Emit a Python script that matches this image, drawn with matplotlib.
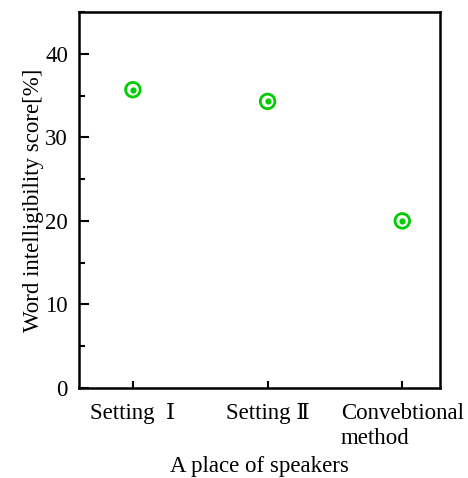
import matplotlib
matplotlib.use("Agg")
import matplotlib.pyplot as plt
from matplotlib.ticker import MultipleLocator

plt.rcParams['font.family'] = ['Liberation Serif', 'DejaVu Serif', 'Noto Sans CJK JP']
plt.rcParams['font.size'] = 16

#-----------------------------------------------------#

categories = ["Setting  Ⅰ", "Setting Ⅱ", "Convebtional\nmethod"]
scores = [35.7, 34.3, 20.0]

#-----------------------------------------------------#

fig = plt.figure(figsize=(4.68, 4.78), dpi=100)
ax = fig.add_axes([79/468, 1 - 388/478, (440-79)/468, (388-12)/478])

pos = list(range(len(categories)))
green = "#00cc00"
ax.scatter(pos, scores, s=110, facecolors="none", edgecolors=green, linewidths=2, zorder=3)
ax.scatter(pos, scores, s=12, color=green, zorder=3)

ax.set_xlim(-0.4, 2.28)
ax.set_ylim(0, 45)
ax.set_xticks(pos)
ax.set_xticklabels(categories, linespacing=1.25, va="top", ha="center",
                   multialignment="left", fontsize=16.5)
ax.yaxis.set_major_locator(MultipleLocator(10))
ax.yaxis.set_minor_locator(MultipleLocator(5))
ax.tick_params(axis="y", which="both", direction="in", right=False, width=1.5, labelsize=16.5)
ax.tick_params(axis="y", which="major", length=7, pad=8)
ax.tick_params(axis="y", which="minor", length=4)
ax.tick_params(axis="x", direction="in", length=5, width=1.5, pad=11)

for s in ax.spines.values():
    s.set_linewidth(1.8)

ax.set_ylabel("Word intelligibility score[%]", fontsize=16.5, labelpad=1)
ax.set_xlabel("A place of speakers", fontsize=16.5, labelpad=5)

fig.savefig("out.png", dpi=100)
